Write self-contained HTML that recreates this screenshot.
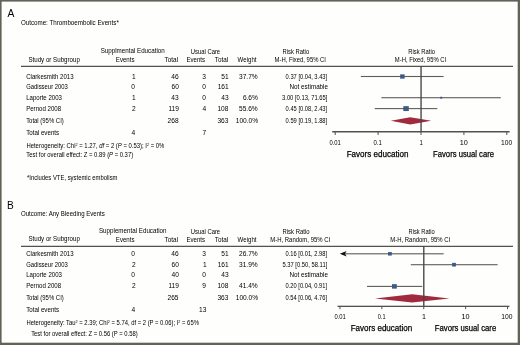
<!DOCTYPE html>
<html><head><meta charset="utf-8"><title>Forest plots</title>
<style>
html,body{margin:0;padding:0;background:#fefefc;}
body{position:relative;width:520px;height:345px;overflow:hidden;}
svg{display:block;}
#main{filter:blur(0.35px);}
#frame{position:absolute;left:0;top:0;}
text{font-family:"Liberation Sans", sans-serif;}
</style></head>
<body>
<svg id="main" width="520" height="345" viewBox="0 0 520 345" font-family='"Liberation Sans", sans-serif' fill="#000000">
<rect x="0" y="0" width="520" height="345" fill="#fefefc"/>
<rect x="21.00" y="65.75" width="492.00" height="1.25" fill="#52524c"/>
<rect x="360.80" y="75.95" width="82.80" height="1.10" fill="#5f5e57"/>
<rect x="381.40" y="97.15" width="119.40" height="1.10" fill="#5f5e57"/>
<rect x="374.70" y="108.05" width="62.60" height="1.10" fill="#5f5e57"/>
<rect x="400.15" y="74.35" width="4.50" height="4.30" fill="#3e5a88"/>
<rect x="440.20" y="96.75" width="2.00" height="1.90" fill="#3e5a88"/>
<rect x="403.30" y="106.15" width="5.50" height="4.90" fill="#3e5a88"/>
<polygon points="390.80,120.80 410.20,117.20 431.30,120.80 410.20,124.40" fill="#a02a3e"/>
<rect x="332.20" y="131.00" width="177.40" height="1.50" fill="#52524c"/>
<rect x="334.70" y="131.50" width="1.00" height="3.50" fill="#52524c"/>
<rect x="377.60" y="131.50" width="1.00" height="3.50" fill="#52524c"/>
<rect x="420.50" y="131.50" width="1.00" height="3.50" fill="#52524c"/>
<rect x="463.40" y="131.50" width="1.00" height="3.50" fill="#52524c"/>
<rect x="506.30" y="131.50" width="1.00" height="3.50" fill="#52524c"/>
<rect x="420.38" y="66.10" width="1.35" height="65.40" fill="#46463f"/>
<rect x="21.00" y="245.75" width="492.00" height="1.25" fill="#52524c"/>
<rect x="342.00" y="253.25" width="101.70" height="1.10" fill="#5f5e57"/>
<rect x="410.80" y="264.15" width="86.80" height="1.10" fill="#5f5e57"/>
<rect x="367.00" y="285.85" width="55.20" height="1.10" fill="#5f5e57"/>
<rect x="388.00" y="252.05" width="3.80" height="3.50" fill="#3e5a88"/>
<rect x="452.10" y="262.85" width="3.80" height="3.70" fill="#3e5a88"/>
<rect x="392.00" y="284.15" width="4.80" height="4.50" fill="#3e5a88"/>
<path d="M339.8,253.8 L346.6,251.1 L345.0,253.8 L346.6,256.6 Z" fill="#111"/>
<polygon points="375.00,298.40 412.20,294.30 449.50,298.40 412.20,302.50" fill="#a02a3e"/>
<rect x="337.50" y="305.70" width="171.90" height="1.30" fill="#52524c"/>
<rect x="339.45" y="306.00" width="1.00" height="3.20" fill="#52524c"/>
<rect x="381.35" y="306.00" width="1.00" height="3.20" fill="#52524c"/>
<rect x="423.25" y="306.00" width="1.00" height="3.20" fill="#52524c"/>
<rect x="465.15" y="306.00" width="1.00" height="3.20" fill="#52524c"/>
<rect x="507.05" y="306.00" width="1.00" height="3.20" fill="#52524c"/>
<rect x="423.12" y="246.10" width="1.35" height="60.00" fill="#46463f"/>
<text x="7.46" y="17" font-size="10.8" textLength="6.88" lengthAdjust="spacingAndGlyphs">A</text>
<text x="20.95" y="25" font-size="6.6" textLength="97.88" lengthAdjust="spacingAndGlyphs">Outcome: Thromboembolic Events*</text>
<text x="100.68" y="53" font-size="6.6" textLength="64.04" lengthAdjust="spacingAndGlyphs">Supplmental Education</text>
<text x="190.75" y="54" font-size="6.6" textLength="29.38" lengthAdjust="spacingAndGlyphs">Usual Care</text>
<text x="282.50" y="54" font-size="6.6" textLength="26.65" lengthAdjust="spacingAndGlyphs">Risk Ratio</text>
<text x="408.35" y="54" font-size="6.6" textLength="26.65" lengthAdjust="spacingAndGlyphs">Risk Ratio</text>
<text x="28.39" y="62" font-size="6.6" textLength="51.53" lengthAdjust="spacingAndGlyphs">Study or Subgroup</text>
<text x="115.81" y="62" font-size="6.6" textLength="18.76" lengthAdjust="spacingAndGlyphs">Events</text>
<text x="164.54" y="62" font-size="6.6" textLength="13.53" lengthAdjust="spacingAndGlyphs">Total</text>
<text x="186.46" y="62" font-size="6.6" textLength="18.68" lengthAdjust="spacingAndGlyphs">Events</text>
<text x="214.75" y="62" font-size="6.6" textLength="13.40" lengthAdjust="spacingAndGlyphs">Total</text>
<text x="237.59" y="62" font-size="6.6" textLength="18.91" lengthAdjust="spacingAndGlyphs">Weight</text>
<text x="274.59" y="62" font-size="6.6" textLength="51.33" lengthAdjust="spacingAndGlyphs">M-H, Fixed, 95% CI</text>
<text x="394.84" y="62" font-size="6.6" textLength="51.33" lengthAdjust="spacingAndGlyphs">M-H, Fixed, 95% CI</text>
<text x="26.21" y="79" font-size="6.6" textLength="47.34" lengthAdjust="spacingAndGlyphs">Clarkesmith 2013</text>
<text x="26.20" y="89" font-size="6.6" textLength="41.71" lengthAdjust="spacingAndGlyphs">Gadisseur 2003</text>
<text x="26.18" y="100" font-size="6.6" textLength="35.74" lengthAdjust="spacingAndGlyphs">Laporte 2003</text>
<text x="26.15" y="111" font-size="6.6" textLength="35.03" lengthAdjust="spacingAndGlyphs">Pernod 2008</text>
<text x="26.15" y="123" font-size="6.6" textLength="37.62" lengthAdjust="spacingAndGlyphs">Total (95% CI)</text>
<text x="26.14" y="135" font-size="6.6" textLength="33.01" lengthAdjust="spacingAndGlyphs">Total events</text>
<text x="131.95" y="79" font-size="6.6">1</text>
<text x="171.34" y="79" font-size="6.6">46</text>
<text x="202.37" y="79" font-size="6.6">3</text>
<text x="221.30" y="79" font-size="6.6">51</text>
<text x="238.97" y="79" font-size="6.6">37.7%</text>
<text x="285.60" y="79" font-size="6.6" textLength="41.58" lengthAdjust="spacingAndGlyphs">0.37 [0.04, 3.43]</text>
<text x="131.36" y="89" font-size="6.6">0</text>
<text x="171.54" y="89" font-size="6.6">60</text>
<text x="202.36" y="89" font-size="6.6">0</text>
<text x="217.66" y="89" font-size="6.6">161</text>
<text x="289.59" y="89" font-size="6.6" textLength="38.45" lengthAdjust="spacingAndGlyphs">Not estimable</text>
<text x="131.95" y="100" font-size="6.6">1</text>
<text x="171.32" y="100" font-size="6.6">43</text>
<text x="202.36" y="100" font-size="6.6">0</text>
<text x="221.22" y="100" font-size="6.6">43</text>
<text x="242.88" y="100" font-size="6.6">6.6%</text>
<text x="282.03" y="100" font-size="6.6" textLength="45.38" lengthAdjust="spacingAndGlyphs">3.00 [0.13, 71.65]</text>
<text x="132.02" y="111" font-size="6.6">2</text>
<text x="168.40" y="111" font-size="6.6">119</text>
<text x="202.42" y="111" font-size="6.6">4</text>
<text x="217.46" y="111" font-size="6.6">108</text>
<text x="238.97" y="111" font-size="6.6">55.6%</text>
<text x="285.60" y="111" font-size="6.6" textLength="41.58" lengthAdjust="spacingAndGlyphs">0.45 [0.08, 2.43]</text>
<text x="167.56" y="123" font-size="6.6">268</text>
<text x="217.42" y="123" font-size="6.6">363</text>
<text x="235.78" y="123" font-size="6.6">100.0%</text>
<text x="285.60" y="123" font-size="6.6" textLength="41.58" lengthAdjust="spacingAndGlyphs">0.59 [0.19, 1.88]</text>
<text x="131.42" y="135" font-size="6.6">4</text>
<text x="202.41" y="135" font-size="6.6">7</text>
<text x="26.40" y="148" font-size="6.3" textLength="137.99" lengthAdjust="spacingAndGlyphs">Heterogeneity: Chi<tspan font-size="4" dy="-2.3">2</tspan><tspan dy="2.3"> = 1.27, </tspan><tspan font-style="italic">df</tspan> = 2 (<tspan font-style="italic">P</tspan> = 0.53); I<tspan font-size="4" dy="-2.3">2</tspan><tspan dy="2.3"> = 0%</tspan></text>
<text x="26.34" y="157" font-size="6.3" textLength="106.80" lengthAdjust="spacingAndGlyphs">Test for overall effect: Z = 0.89 (<tspan font-style="italic">P</tspan> = 0.37)</text>
<text x="27.02" y="180" font-size="6.3" textLength="90.49" lengthAdjust="spacingAndGlyphs">*Includes VTE, systemic embolism</text>
<text x="329.40" y="145" font-size="6.4" textLength="11.39" lengthAdjust="spacingAndGlyphs">0.01</text>
<text x="373.56" y="145" font-size="6.4" textLength="8.28" lengthAdjust="spacingAndGlyphs">0.1</text>
<text x="419.50" y="145" font-size="6.4" textLength="3.32" lengthAdjust="spacingAndGlyphs">1</text>
<text x="459.72" y="145" font-size="6.4" textLength="8.10" lengthAdjust="spacingAndGlyphs">10</text>
<text x="500.95" y="145" font-size="6.4" textLength="11.18" lengthAdjust="spacingAndGlyphs">100</text>
<text x="346.67" y="157" font-size="8.7" stroke="#000000" stroke-width="0.25" textLength="61.72" lengthAdjust="spacingAndGlyphs">Favors education</text>
<text x="433.10" y="157" font-size="8.7" stroke="#000000" stroke-width="0.25" textLength="60.91" lengthAdjust="spacingAndGlyphs">Favors usual care</text>
<text x="6.90" y="209" font-size="10.8" textLength="6.79" lengthAdjust="spacingAndGlyphs">B</text>
<text x="20.90" y="216" font-size="6.6" textLength="83.95" lengthAdjust="spacingAndGlyphs">Outcome: Any Bleeding Events</text>
<text x="98.98" y="233" font-size="6.6" textLength="67.52" lengthAdjust="spacingAndGlyphs">Supplemental Education</text>
<text x="190.75" y="234" font-size="6.6" textLength="29.38" lengthAdjust="spacingAndGlyphs">Usual Care</text>
<text x="282.50" y="234" font-size="6.6" textLength="26.93" lengthAdjust="spacingAndGlyphs">Risk Ratio</text>
<text x="408.60" y="234" font-size="6.6" textLength="26.05" lengthAdjust="spacingAndGlyphs">Risk Ratio</text>
<text x="28.39" y="241" font-size="6.6" textLength="51.53" lengthAdjust="spacingAndGlyphs">Study or Subgroup</text>
<text x="115.81" y="242" font-size="6.6" textLength="18.76" lengthAdjust="spacingAndGlyphs">Events</text>
<text x="164.54" y="242" font-size="6.6" textLength="13.53" lengthAdjust="spacingAndGlyphs">Total</text>
<text x="186.46" y="242" font-size="6.6" textLength="18.68" lengthAdjust="spacingAndGlyphs">Events</text>
<text x="214.75" y="242" font-size="6.6" textLength="13.40" lengthAdjust="spacingAndGlyphs">Total</text>
<text x="237.59" y="242" font-size="6.6" textLength="18.91" lengthAdjust="spacingAndGlyphs">Weight</text>
<text x="270.25" y="242" font-size="6.6" textLength="59.91" lengthAdjust="spacingAndGlyphs">M-H, Random, 95% CI</text>
<text x="390.25" y="242" font-size="6.6" textLength="59.91" lengthAdjust="spacingAndGlyphs">M-H, Random, 95% CI</text>
<text x="26.21" y="256" font-size="6.6" textLength="47.34" lengthAdjust="spacingAndGlyphs">Clarkesmith 2013</text>
<text x="26.20" y="267" font-size="6.6" textLength="41.71" lengthAdjust="spacingAndGlyphs">Gadisseur 2003</text>
<text x="26.18" y="277" font-size="6.6" textLength="35.74" lengthAdjust="spacingAndGlyphs">Laporte 2003</text>
<text x="26.15" y="288" font-size="6.6" textLength="35.03" lengthAdjust="spacingAndGlyphs">Pernod 2008</text>
<text x="26.15" y="300" font-size="6.6" textLength="37.62" lengthAdjust="spacingAndGlyphs">Total (95% CI)</text>
<text x="26.14" y="312" font-size="6.6" textLength="33.01" lengthAdjust="spacingAndGlyphs">Total events</text>
<text x="131.36" y="256" font-size="6.6">0</text>
<text x="171.34" y="256" font-size="6.6">46</text>
<text x="202.37" y="256" font-size="6.6">3</text>
<text x="221.30" y="256" font-size="6.6">51</text>
<text x="238.97" y="256" font-size="6.6">26.7%</text>
<text x="285.50" y="256" font-size="6.6" textLength="41.62" lengthAdjust="spacingAndGlyphs">0.16 [0.01, 2.98]</text>
<text x="132.02" y="267" font-size="6.6">2</text>
<text x="171.54" y="267" font-size="6.6">60</text>
<text x="202.95" y="267" font-size="6.6">1</text>
<text x="217.66" y="267" font-size="6.6">161</text>
<text x="238.97" y="267" font-size="6.6">31.9%</text>
<text x="282.41" y="267" font-size="6.6" textLength="44.85" lengthAdjust="spacingAndGlyphs">5.37 [0.50, 58.11]</text>
<text x="131.36" y="277" font-size="6.6">0</text>
<text x="171.54" y="277" font-size="6.6">40</text>
<text x="202.36" y="277" font-size="6.6">0</text>
<text x="221.22" y="277" font-size="6.6">43</text>
<text x="289.40" y="277" font-size="6.6" textLength="38.51" lengthAdjust="spacingAndGlyphs">Not estimable</text>
<text x="132.02" y="288" font-size="6.6">2</text>
<text x="168.40" y="288" font-size="6.6">119</text>
<text x="202.37" y="288" font-size="6.6">9</text>
<text x="217.46" y="288" font-size="6.6">108</text>
<text x="238.97" y="288" font-size="6.6">41.4%</text>
<text x="285.50" y="288" font-size="6.6" textLength="41.62" lengthAdjust="spacingAndGlyphs">0.20 [0.04, 0.91]</text>
<text x="167.49" y="300" font-size="6.6">265</text>
<text x="217.42" y="300" font-size="6.6">363</text>
<text x="235.78" y="300" font-size="6.6">100.0%</text>
<text x="285.50" y="300" font-size="6.6" textLength="41.62" lengthAdjust="spacingAndGlyphs">0.54 [0.06, 4.76]</text>
<text x="131.42" y="312" font-size="6.6">4</text>
<text x="199.02" y="312" font-size="6.6">13</text>
<text x="26.40" y="325" font-size="6.3" textLength="172.47" lengthAdjust="spacingAndGlyphs">Heterogeneity: Tau<tspan font-size="4" dy="-2.3">2</tspan><tspan dy="2.3"> = 2.39; Chi</tspan><tspan font-size="4" dy="-2.3">2</tspan><tspan dy="2.3"> = 5.74, df = 2 (P = 0.06); I</tspan><tspan font-size="4" dy="-2.3">2</tspan><tspan dy="2.3"> = 65%</tspan></text>
<text x="31.14" y="336" font-size="6.3" textLength="106.57" lengthAdjust="spacingAndGlyphs">Test for overall effect: Z = 0.56 (P = 0.58)</text>
<text x="334.40" y="319" font-size="6.4" textLength="11.39" lengthAdjust="spacingAndGlyphs">0.01</text>
<text x="377.77" y="319" font-size="6.4" textLength="7.76" lengthAdjust="spacingAndGlyphs">0.1</text>
<text x="421.96" y="319" font-size="6.4" textLength="3.97" lengthAdjust="spacingAndGlyphs">1</text>
<text x="461.42" y="319" font-size="6.4" textLength="8.10" lengthAdjust="spacingAndGlyphs">10</text>
<text x="501.32" y="319" font-size="6.4" textLength="11.24" lengthAdjust="spacingAndGlyphs">100</text>
<text x="350.67" y="331" font-size="8.7" stroke="#000000" stroke-width="0.25" textLength="61.61" lengthAdjust="spacingAndGlyphs">Favors education</text>
<text x="434.80" y="331" font-size="8.7" stroke="#000000" stroke-width="0.25" textLength="61.39" lengthAdjust="spacingAndGlyphs">Favors usual care</text>
</svg>
<svg id="frame" width="520" height="345" viewBox="0 0 520 345">
<rect x="0" y="0" width="520" height="1.6" fill="#62625b"/><rect x="0" y="0" width="1.6" height="345" fill="#62625b"/><rect x="517.7" y="0" width="2.3" height="345" fill="#62625b"/><rect x="0" y="342.7" width="520" height="2.3" fill="#62625b"/>
</svg>
</body></html>
